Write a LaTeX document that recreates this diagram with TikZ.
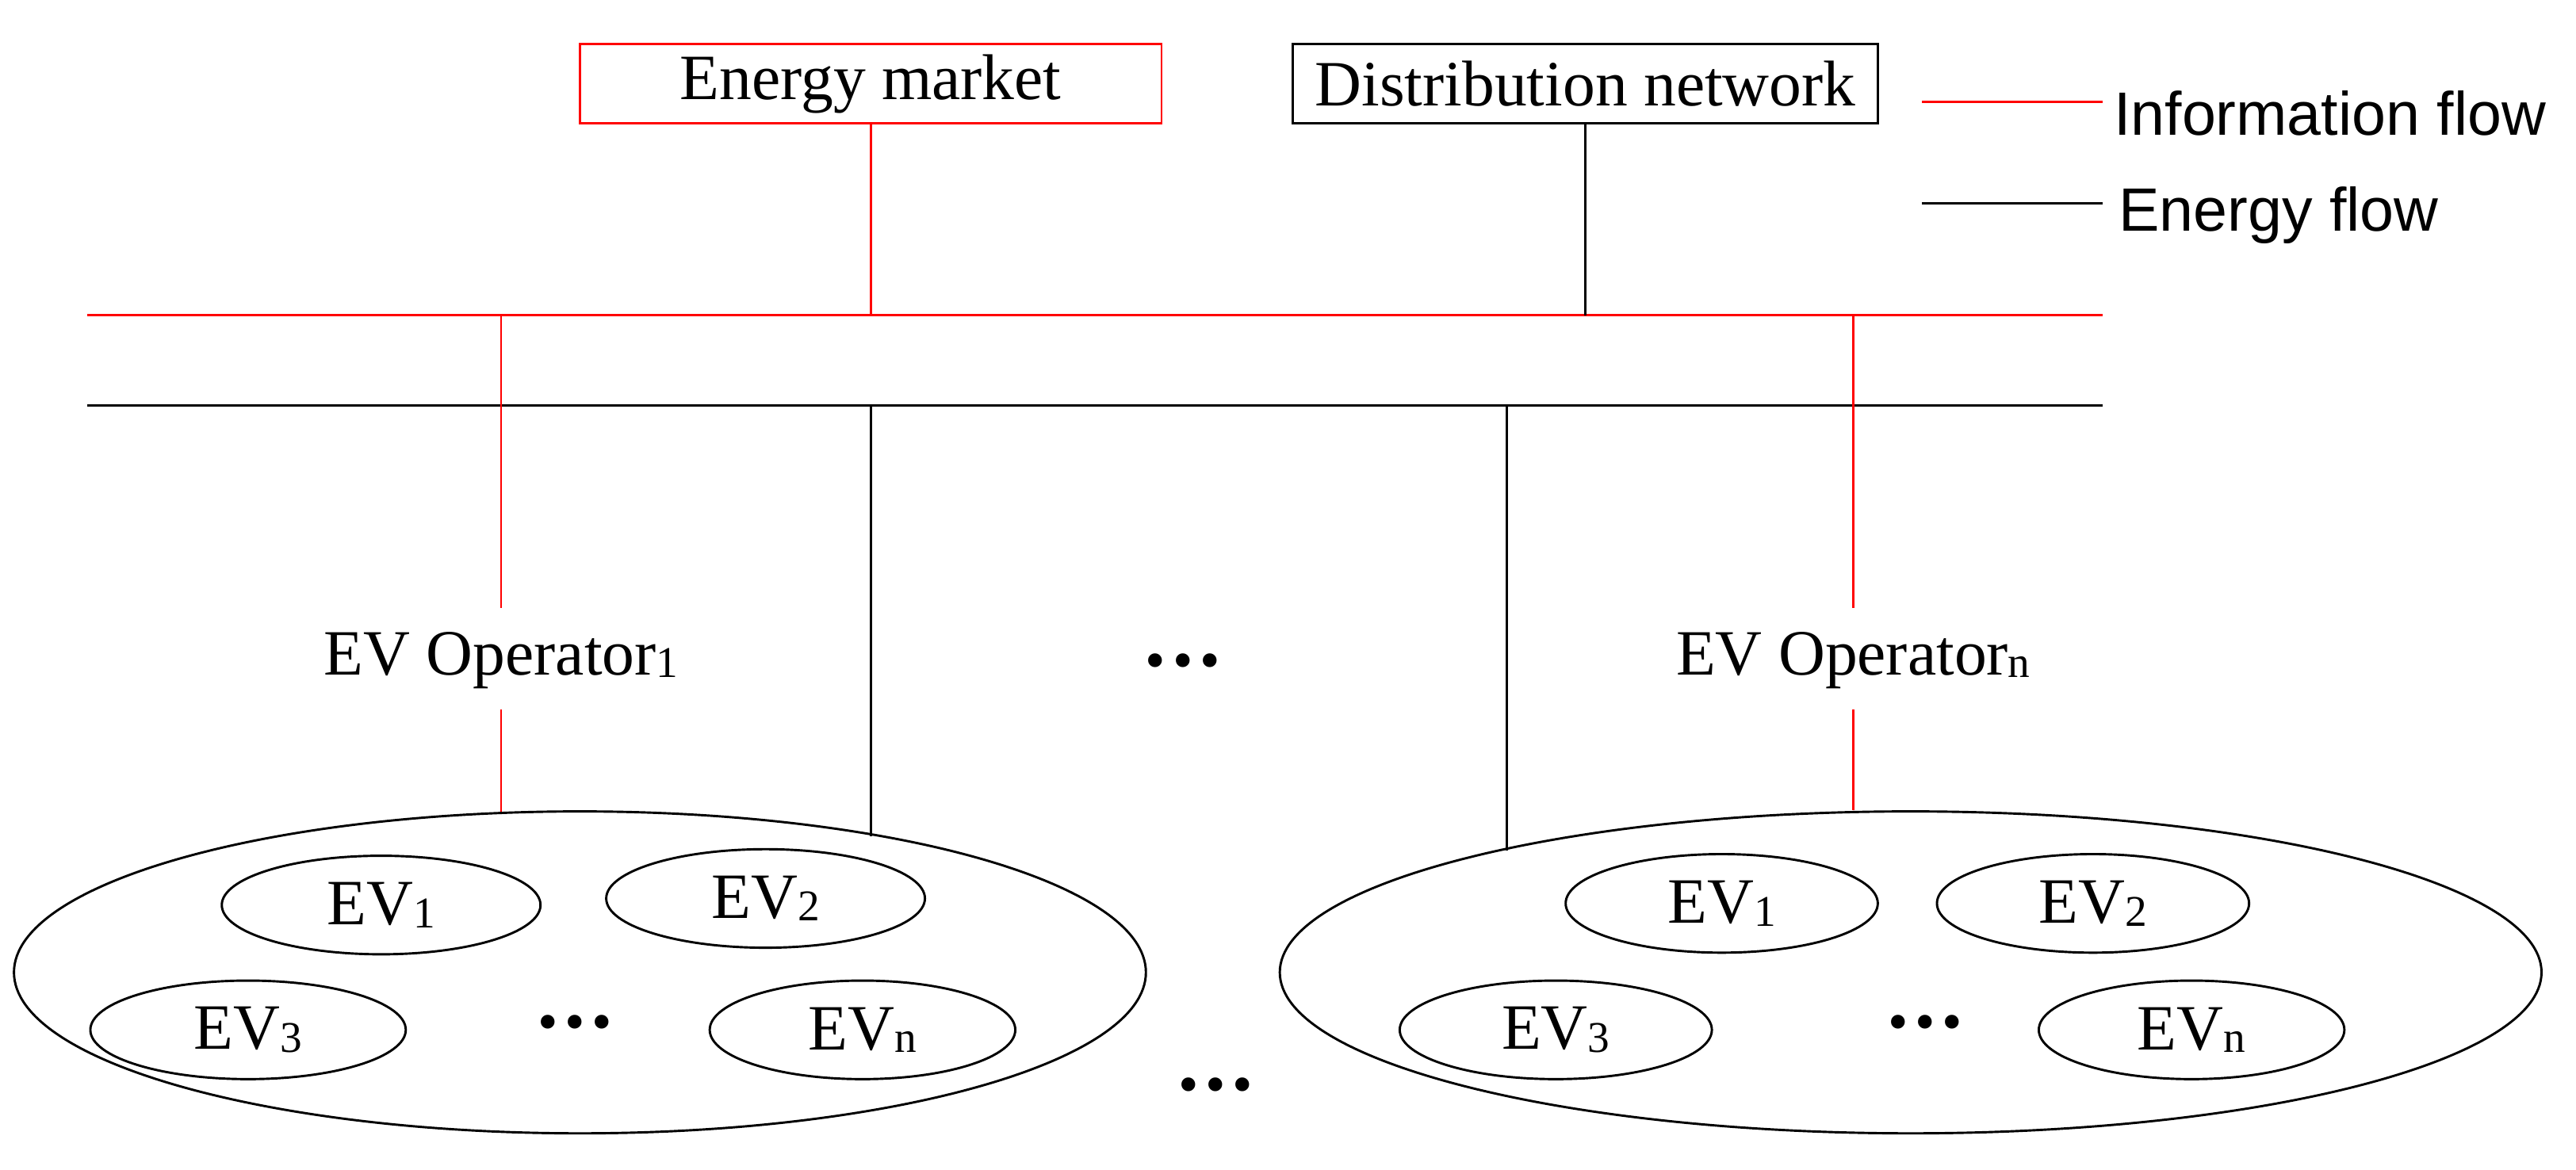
\documentclass[tikz,border=0pt]{standalone}
\usepackage{fontspec}
\setmainfont{Liberation Serif}
\newfontfamily\legfont{Liberation Sans}
\usetikzlibrary{shapes.geometric}
\newcommand{\sbs}[1]{{\fontsize{38}{38}\selectfont\raisebox{-0.06em}{#1}}}
\newcommand{\bdots}{\textbullet\hspace{0.12em}\textbullet\hspace{0.12em}\textbullet}
\begin{document}
\begin{tikzpicture}[x=0.05cm,y=-0.05cm,line width=2pt,
  txt/.style={font=\fontsize{56}{64}\selectfont,inner sep=0pt},
  leg/.style={font=\legfont\fontsize{53}{60}\selectfont,inner sep=0pt,anchor=west},
  box/.style={draw,txt,minimum height=48*0.05cm,inner sep=0pt},
  ev/.style={draw,ellipse,txt,minimum height=60*0.05cm,inner sep=0pt},
  big/.style={draw,ellipse,inner sep=0pt},
  info/.style={red},
  dots/.style={font=\fontsize{50}{50}\selectfont,inner sep=0pt}]
\useasboundingbox (0,0) rectangle (1568,712);
% boxes
\node[box,red,text=black,minimum width=354*0.05cm] (em) at (530,51) {Energy market};
\node[box,minimum width=356*0.05cm] (dn) at (965,51) {Distribution network};
% legend
\coordinate (l1a) at (1170,62); \coordinate (l1b) at (1280,62);
\coordinate (l2a) at (1170,124); \coordinate (l2b) at (1280,124);
\draw[info] (l1a) -- (l1b);
\draw (l2a) -- (l2b);
\node[leg] (lt1) at (1286,69) {Information flow};
\node[leg] (lt2) at (1289,131) {Energy flow};
% buses
\coordinate (rb1) at (53,192); \coordinate (rb2) at (1280,192);
\coordinate (bb1) at (53,247); \coordinate (bb2) at (1280,247);
\draw[info] (rb1) -- (rb2);
\draw (bb1) -- (bb2);
% big ellipses
\node[big,minimum width=689*0.05cm,minimum height=196*0.05cm] (L) at (353,592) {};
\node[big,minimum width=768*0.05cm,minimum height=196*0.05cm] (R) at (1163,592) {};
% operators
\node[txt] (op1) at (305,402) {EV Operator\sbs{1}};
\node[txt] (opn) at (1128,402) {EV Operator\sbs{n}};
\node[dots] (d0) at (720,406) {\bdots};
\node[dots] (d3) at (740,664) {\bdots};
% connections
\draw[info] (em.south) -- (em.south |- rb1);
\draw (dn.south) -- (dn.south |- rb1);
\draw[info] (op1.north |- rb1) -- (305,370);
\draw[info] (305,432) -- (305,494);
\draw[info] (opn.north |- rb1) -- (1128,370);
\draw[info] (1128,432) -- (R.north -| opn);
\coordinate (c530) at (530,247);
\draw (c530) -- (530,509);
\coordinate (c917) at (917,247);
\draw (c917) -- (917,518);
% small EVs
\node[ev,minimum width=194*0.05cm] (a1) at (232,551) {EV\sbs{1}};
\node[ev,minimum width=194*0.05cm] (a2) at (466,547) {EV\sbs{2}};
\node[ev,minimum width=192*0.05cm] (a3) at (151,627) {EV\sbs{3}};
\node[ev,minimum width=186*0.05cm] (an) at (525,627) {EV\sbs{n}};
\node[dots] (d1) at (350,626) {\bdots};
\node[ev,minimum width=190*0.05cm] (b1) at (1048,550) {EV\sbs{1}};
\node[ev,minimum width=190*0.05cm] (b2) at (1274,550) {EV\sbs{2}};
\node[ev,minimum width=190*0.05cm] (b3) at (947,627) {EV\sbs{3}};
\node[ev,minimum width=186*0.05cm] (bn) at (1334,627) {EV\sbs{n}};
\node[dots] (d2) at (1172,626) {\bdots};
\end{tikzpicture}
\end{document}
